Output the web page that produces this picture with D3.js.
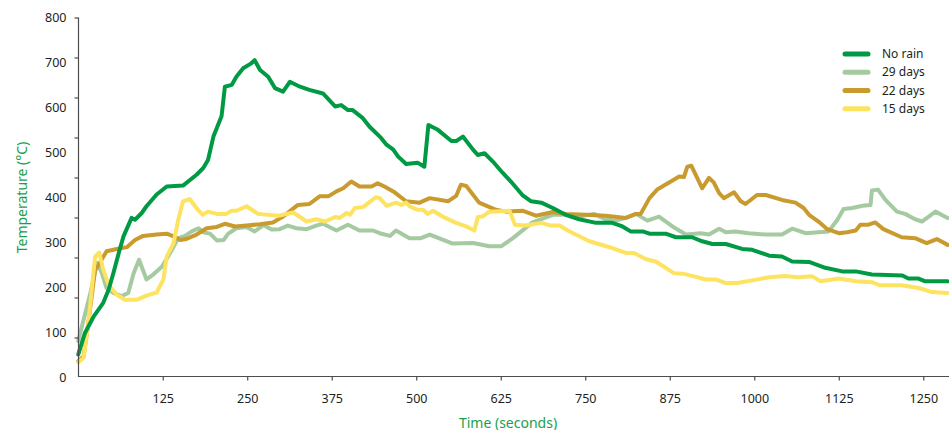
<!DOCTYPE html>
<html>
<head>
<meta charset="utf-8">
<script src="https://cdn.jsdelivr.net/npm/d3@7"></script>
<style>
  html, body { margin: 0; padding: 0; background: #fff; }
  svg { display: block; }
  text { font-family: "Noto Sans", "Open Sans", sans-serif; }
</style>
</head>
<body>
<svg id="chart" width="949" height="430"></svg>
<script>
// ---- Data (time in seconds, temperature in °C) ----
const seriesNames = ["No rain", "29 days", "22 days", "15 days"];
const xTickValues = [125, 250, 375, 500, 625, 750, 875, 1000, 1125, 1250];
const yTickValues = [0, 100, 200, 300, 400, 500, 600, 700, 800];

const noRain = [[0,50],[10,98],[23,135],[37,165],[45,194],[52,231],[60,276],[67,313],[79,354],[84,350],[94,365],[101,380],[116,406],[131,424],[155,426],[175,450],[185,465],[192,483],[200,535],[212,580],[217,646],[227,650],[234,668],[244,687],[256,698],[261,705],[269,683],[281,668],[291,643],[303,635],[313,657],[328,646],[342,639],[362,631],[380,602],[389,605],[399,594],[406,594],[421,576],[431,557],[448,532],[456,517],[466,506],[473,491],[485,474],[502,477],[512,468],[518,561],[532,550],[552,525],[559,525],[569,535],[584,506],[591,494],[601,498],[613,480],[628,454],[640,435],[657,405],[670,391],[685,388],[702,376],[721,361],[741,351],[766,343],[790,343],[805,335],[817,324],[835,324],[845,319],[869,319],[884,311],[908,311],[923,302],[938,296],[958,296],[982,285],[997,283],[1022,270],[1041,268],[1056,257],[1081,256],[1105,243],[1130,235],[1150,235],[1174,228],[1219,226],[1228,219],[1243,219],[1253,213],[1286,213]];

const days29 = [[0,80],[18,187],[28,254],[35,231],[42,198],[52,187],[64,180],[74,187],[82,231],[90,261],[101,217],[111,228],[124,246],[136,276],[148,309],[158,314],[168,324],[178,331],[185,322],[195,319],[205,304],[215,305],[222,319],[234,331],[249,334],[261,324],[274,338],[286,328],[298,329],[310,337],[323,331],[338,329],[352,337],[362,341],[382,326],[399,339],[416,326],[436,326],[446,320],[461,314],[470,326],[490,309],[507,309],[520,317],[554,297],[584,298],[608,291],[626,291],[643,309],[672,344],[702,361],[721,361],[741,357],[763,363],[780,351],[795,348],[810,354],[825,363],[842,348],[859,357],[879,335],[899,317],[921,320],[933,317],[948,330],[958,322],[972,324],[992,320],[1017,317],[1041,317],[1056,330],[1076,320],[1095,322],[1110,324],[1123,350],[1132,374],[1145,376],[1160,381],[1172,383],[1174,415],[1183,417],[1194,394],[1211,368],[1223,363],[1238,351],[1248,346],[1268,368],[1286,354]];

const days22 = [[0,35],[8,46],[15,120],[25,239],[32,254],[42,280],[57,285],[72,289],[84,305],[96,314],[116,317],[131,319],[141,313],[151,305],[160,307],[175,317],[190,331],[205,334],[217,341],[232,335],[249,337],[269,340],[288,344],[303,357],[325,383],[342,385],[357,402],[370,402],[382,413],[392,420],[404,435],[416,424],[434,424],[443,431],[453,424],[468,411],[485,391],[505,388],[520,398],[547,391],[559,403],[566,428],[574,425],[593,388],[618,372],[633,368],[657,370],[677,359],[702,367],[721,363],[751,361],[780,359],[810,354],[825,363],[832,363],[845,398],[857,418],[874,433],[889,446],[896,445],[901,468],[907,470],[923,420],[933,443],[940,433],[948,409],[955,398],[970,411],[980,391],[987,385],[1004,405],[1017,405],[1041,394],[1061,388],[1073,376],[1081,361],[1095,346],[1108,329],[1125,320],[1137,322],[1150,326],[1157,339],[1169,339],[1179,344],[1191,329],[1218,311],[1238,309],[1255,298],[1270,307],[1286,294]];

const days15 = [[0,33],[8,43],[15,120],[25,268],[31,277],[37,239],[45,205],[57,183],[69,172],[87,172],[101,181],[116,188],[126,217],[131,268],[141,298],[148,350],[155,391],[165,396],[175,376],[184,361],[192,368],[205,363],[219,363],[227,370],[234,370],[249,380],[266,363],[296,359],[318,366],[338,346],[352,351],[365,346],[380,356],[387,354],[397,365],[402,361],[409,376],[421,378],[429,387],[440,400],[446,398],[456,381],[470,388],[478,383],[485,388],[490,380],[502,372],[510,372],[517,363],[525,370],[539,357],[559,343],[574,335],[586,326],[591,356],[598,357],[608,368],[638,370],[646,339],[662,337],[685,343],[699,337],[712,337],[724,326],[756,302],[790,287],[810,276],[822,276],[840,262],[854,257],[869,243],[881,231],[894,230],[911,224],[928,217],[943,217],[958,209],[975,209],[997,215],[1022,222],[1046,225],[1064,222],[1086,224],[1098,213],[1125,219],[1150,213],[1174,211],[1186,204],[1218,204],[1243,198],[1263,189],[1286,187]];

const seriesColors = ["#009a44", "#a5caa1", "#c99a2e", "#fde35f"];
const seriesData = [noRain, days29, days22, days15];

// ---- Chart ----
const svg = d3.select("#chart");
const axisColor = "#4d4d4d";
const textColor = "#231f20";
const titleColor = "#1aa04c";

const x = d3.scaleLinear().domain([0, 1250]).range([78.2, 923.3]);
const y = d3.scaleLinear().domain([0, 800]).range([377, 17.5]);
// tick marks in the original are spaced differently from their labels
const yTickMarks = d3.scaleLinear().domain([0, 800]).range([337.5, 17.5]);

// Lines (draw order: light first, No rain on top)
const line = d3.line().x(d => x(d[0])).y(d => y(d[1])).curve(d3.curveLinear);
const order = [1, 2, 3, 0];
svg.append("g").selectAll("path")
  .data(order)
  .join("path")
  .attr("d", i => line(seriesData[i]))
  .attr("fill", "none")
  .attr("stroke", i => seriesColors[i])
  .attr("stroke-width", 4)
  .attr("stroke-linejoin", "round")
  .attr("stroke-linecap", "round");

// Axis lines
svg.append("line").attr("x1", 78.5).attr("x2", 78.5).attr("y1", 17.5).attr("y2", 377)
  .attr("stroke", axisColor).attr("stroke-width", 1.2);
svg.append("line").attr("x1", 78).attr("x2", 949).attr("y1", 376.5).attr("y2", 376.5)
  .attr("stroke", axisColor).attr("stroke-width", 1.2);

// X axis ticks and labels
const gx = svg.append("g").attr("transform", "translate(0,376.5)")
  .call(d3.axisBottom(x).tickValues(xTickValues).tickSize(4).tickFormat(d3.format("d")));
gx.select(".domain").remove();
gx.selectAll(".tick line").attr("stroke", axisColor).attr("stroke-width", 1.2);
gx.selectAll(".tick text").attr("y", 26).attr("dy", 0)
  .attr("fill", textColor).style("font-size", "12.5px")
  .style("font-family", "'Noto Sans', sans-serif");

// Y tick marks
const gyt = svg.append("g").attr("transform", "translate(78.5,0)")
  .call(d3.axisLeft(yTickMarks).tickValues(yTickValues).tickSize(4).tickFormat(""));
gyt.select(".domain").remove();
gyt.selectAll(".tick line").attr("stroke", axisColor).attr("stroke-width", 1.2);

// Y labels
const gy = svg.append("g").attr("transform", "translate(78.5,0)")
  .call(d3.axisLeft(y).tickValues(yTickValues).tickSize(0).tickPadding(12));
gy.select(".domain").remove();
gy.selectAll(".tick text").attr("fill", textColor).style("font-size", "12.5px")
  .style("font-family", "'Noto Sans', sans-serif");

// Axis titles
svg.append("text").attr("x", 508).attr("y", 427.5).attr("text-anchor", "middle")
  .attr("fill", titleColor).style("font-size", "14px").text("Time (seconds)");
svg.append("text").attr("transform", "translate(26.5,197.5) rotate(-90)")
  .attr("text-anchor", "middle")
  .attr("fill", titleColor).style("font-size", "14px").text("Temperature (°C)");

// Legend
const legendY = d3.scalePoint().domain(seriesNames).range([54, 108.7]);
const lg = svg.append("g");
const items = lg.selectAll("g").data(seriesNames).join("g")
  .attr("transform", d => `translate(0,${legendY(d)})`);
items.append("line").attr("x1", 845).attr("x2", 868).attr("y1", 0).attr("y2", 0)
  .attr("stroke", (d, i) => seriesColors[i]).attr("stroke-width", 5).attr("stroke-linecap", "round");
items.append("text").attr("x", 882).attr("y", 0).attr("dy", "0.35em")
  .attr("fill", textColor).style("font-size", "12px").text(d => d);
</script>
</body>
</html>
